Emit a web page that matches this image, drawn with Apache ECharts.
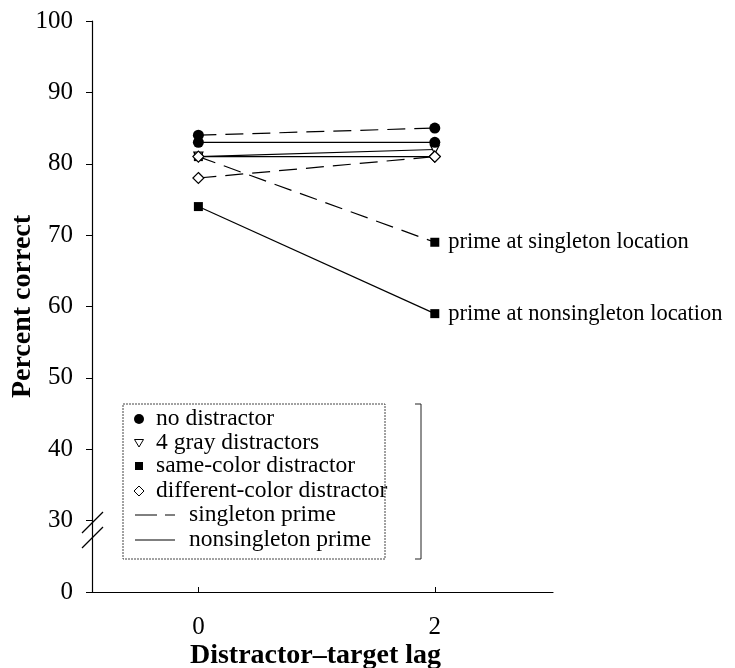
<!DOCTYPE html>
<html>
<head>
<meta charset="utf-8">
<script src="https://cdn.jsdelivr.net/npm/echarts@6/dist/echarts.min.js"></script>
<style>
html,body{margin:0;padding:0;background:#fff;}
#chart{width:735px;height:668px;}
</style>
</head>
<body>
<div id="chart"></div>
<script>
// ---- data ----
const lags = [0, 2];
const yTickValues = [20, 30, 40, 50, 60, 70, 80, 90, 100]; // 20 is drawn as "0" (axis break)
const noDistractorSingleton = [84, 85];
const noDistractorNonsingleton = [83, 83];
const grayDistractors = [81, 82];
const sameColorSingleton = [81, 69];
const sameColorNonsingleton = [74, 59];
const differentColorSingleton = [78, 81];
const differentColorNonsingleton = [81, 81];
const legendLabels = ['no distractor', '4 gray distractors', 'same-color distractor', 'different-color distractor', 'singleton prime', 'nonsingleton prime'];
const pointLabels = ['prime at singleton location', 'prime at nonsingleton location'];

const FONT = 'Liberation Serif';
const chart = echarts.init(document.getElementById('chart'), null, {renderer: 'canvas'});

function pairs(vals) { return lags.map((x, i) => [x, vals[i]]); }
const DASH = [18, 9];

function mk(name, vals, symbol, filled, dashed, size, extra) {
  return Object.assign({
    name: name,
    type: 'line',
    data: pairs(vals),
    symbol: symbol,
    symbolSize: size,
    showSymbol: true,
    animation: false,
    lineStyle: {color: '#000', width: 1.2, type: dashed ? DASH : 'solid'},
    itemStyle: {color: filled ? '#000' : '#fff', borderColor: '#000', borderWidth: filled ? 0 : 1.2, opacity: 1},
    emphasis: {disabled: true}
  }, extra || {});
}

function endLabel(text) {
  return {
    label: {
      show: true,
      position: 'right',
      distance: 9,
      fontFamily: FONT,
      fontSize: 22.5,
      color: '#000',
      formatter: p => (p.dataIndex === 1 ? text : '')
    }
  };
}

const series = [
  mk('same-color singleton', sameColorSingleton, 'rect', true, true, 9, endLabel(pointLabels[0])),
  mk('same-color nonsingleton', sameColorNonsingleton, 'rect', true, false, 9, endLabel(pointLabels[1])),
  mk('4 gray', grayDistractors, 'triangle', false, false, 9, {symbolRotate: 180}),
  mk('different-color singleton', differentColorSingleton, 'diamond', false, true, 11),
  mk('different-color nonsingleton', differentColorNonsingleton, 'diamond', false, false, 11),
  mk('no distractor nonsingleton', noDistractorNonsingleton, 'circle', true, false, 11),
  mk('no distractor singleton', noDistractorSingleton, 'circle', true, true, 11)
];

// legend drawn as graphics
const lx = 139, rows = [419, 443, 466, 491, 515, 540];
const g = [];
g.push({type: 'rect', shape: {x: 123, y: 404, width: 262, height: 155}, style: {fill: 'none', stroke: '#444', lineWidth: 1, lineDash: [2, 1]}});
g.push({type: 'polyline', shape: {points: [[415, 404], [421, 404], [421, 559], [415, 559]]}, style: {fill: 'none', stroke: '#222', lineWidth: 1}});
g.push({type: 'circle', shape: {cx: lx, cy: rows[0], r: 5}, style: {fill: '#000'}});
g.push({type: 'polygon', shape: {points: [[lx - 4.5, rows[1] - 3.5], [lx + 4.5, rows[1] - 3.5], [lx, rows[1] + 4]]}, style: {fill: '#fff', stroke: '#000', lineWidth: 1}});
g.push({type: 'rect', shape: {x: lx - 4, y: rows[2] - 4, width: 8, height: 8}, style: {fill: '#000'}});
g.push({type: 'polygon', shape: {points: [[lx, rows[3] - 5], [lx + 5, rows[3]], [lx, rows[3] + 5], [lx - 5, rows[3]]]}, style: {fill: '#fff', stroke: '#000', lineWidth: 1}});
g.push({type: 'line', shape: {x1: 135, y1: rows[4], x2: 175, y2: rows[4]}, style: {stroke: '#000', lineWidth: 1, lineDash: [22, 8]}});
g.push({type: 'line', shape: {x1: 135, y1: rows[5], x2: 175, y2: rows[5]}, style: {stroke: '#000', lineWidth: 1.2}});
legendLabels.forEach((t, i) => {
  g.push({type: 'text', x: i < 4 ? 156 : 189, y: rows[i], style: {text: t, font: '23.5px "' + FONT + '"', fill: '#000', verticalAlign: 'middle', textAlign: 'left'}});
});
// axis break marks
g.push({type: 'line', shape: {x1: 82, y1: 533, x2: 103, y2: 512}, style: {stroke: '#000', lineWidth: 1.2}});
g.push({type: 'line', shape: {x1: 82, y1: 548, x2: 103, y2: 527}, style: {stroke: '#000', lineWidth: 1.2}});

chart.setOption({
  backgroundColor: '#fff',
  animation: false,
  grid: {left: 92, right: 182, top: 21, bottom: 76, containLabel: false, outerBoundsMode: 'none'},
  xAxis: {
    type: 'value',
    min: -0.9,
    max: 3,
    name: 'Distractor\u2013target lag',
    nameLocation: 'middle',
    nameGap: 50,
    nameMoveOverlap: false,
    nameTextStyle: {fontFamily: FONT, fontSize: 28, fontWeight: 'bold', color: '#000', padding: [0, 14, 0, 0]},
    axisLine: {show: true, onZero: false, lineStyle: {color: '#000', width: 1.2}},
    axisTick: {show: true, inside: true, length: 5, customValues: lags, lineStyle: {color: '#000'}},
    axisLabel: {customValues: lags, margin: 23, fontFamily: FONT, fontSize: 25, color: '#000'},
    splitLine: {show: false}
  },
  yAxis: {
    type: 'value',
    min: 20,
    max: 100,
    interval: 10,
    name: 'Percent correct',
    nameLocation: 'middle',
    nameGap: 55,
    nameMoveOverlap: false,
    nameTextStyle: {fontFamily: FONT, fontSize: 28, fontWeight: 'bold', color: '#000'},
    axisLine: {show: true, onZero: false, lineStyle: {color: '#000', width: 1.2}},
    axisTick: {show: true, length: 6, customValues: yTickValues, lineStyle: {color: '#000'}},
    axisLabel: {customValues: yTickValues, margin: 19, fontFamily: FONT, fontSize: 25, color: '#000', formatter: v => (v === 20 ? '0' : String(v))},
    splitLine: {show: false}
  },
  series: series,
  graphic: g
});
</script>
</body>
</html>
